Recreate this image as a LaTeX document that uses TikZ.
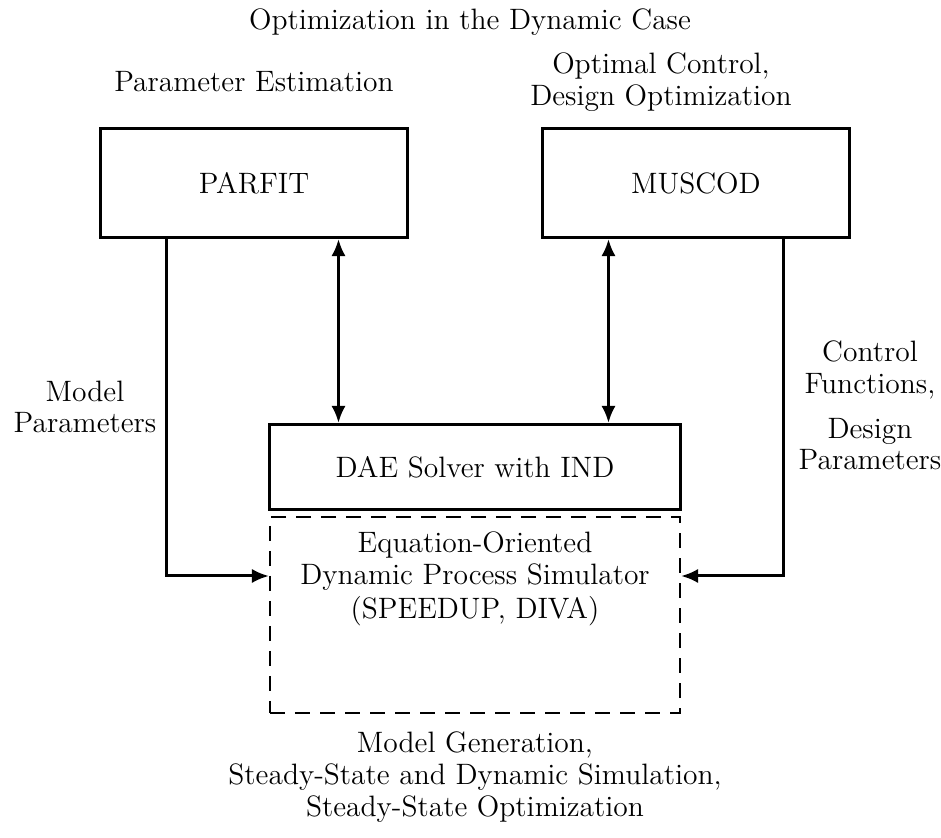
\documentclass[tikz,border=0pt]{standalone}
\usetikzlibrary{arrows.meta, positioning, calc}

\begin{document}
\begin{tikzpicture}[
  x=0.4pt, y=0.4pt,
  every node/.style={font=\fontsize{11.8}{11.2}\selectfont},
  box/.style={draw, very thick, minimum width=122.8pt, minimum height=43.6pt, inner sep=0pt},
  solver/.style={draw, very thick, minimum width=164pt, minimum height=34pt, inner sep=0pt},
  simbox/.style={draw, thick, dashed, dash pattern=on 6pt off 4pt, minimum width=164pt,
    minimum height=78.4pt, inner sep=0pt},
  arr/.style={-{Latex[length=2.4mm, width=2mm]}, very thick},
  darr/.style={{Latex[length=2.4mm, width=2mm]}-{Latex[length=2.4mm, width=2mm]}, very thick},
  lbl/.style={align=center, inner sep=0pt}
]
  \useasboundingbox (0,0) rectangle (941,-838);

  %% Title
  \node[lbl] (title) at (470,-22) {Optimization in the Dynamic Case};

  %% Optimizers
  \node[lbl] (pelbl) at (254,-82) {Parameter Estimation};
  \node[lbl] (oclbl) at (661,-82) {Optimal Control,\\[1.5pt]Design Optimization};
  \node[box] (parfit) at (254,-183) {PARFIT};
  \node[box] (muscod) at (696,-183) {MUSCOD};

  %% Solver and simulator
  \node[solver] (dae) at (475,-467) {DAE Solver with IND};
  \node[simbox] (sim) at (475,-615) {};
  \node[lbl] (simtxt) at (475,-579)
    {Equation-Oriented\\[1.5pt]Dynamic Process Simulator\\[1.5pt](SPEEDUP, DIVA)};
  \node[lbl] (simlbl) at (475,-777)
    {Model Generation,\\[1.5pt]Steady-State and Dynamic Simulation,\\[1.5pt]Steady-State Optimization};

  %% Solver links
  \coordinate (pa) at ($(dae.north west)+(70,0)$);
  \coordinate (ma) at ($(dae.north west)+(340,0)$);
  \draw[darr] (pa |- parfit.south) -- (pa);
  \draw[darr] (ma |- muscod.south) -- (ma);

  %% Model parameters
  \coordinate (pout) at ($(parfit.south west)+(68,0)$);
  \coordinate (pin) at ($(sim.west)+(0,39)$);
  \draw[arr] (pout) |- (pin);
  \node[lbl] (mplbl) at (85,-407) {Model\\[1.5pt]Parameters};

  %% Control functions
  \coordinate (mout) at ($(muscod.south east)+(-68,0)$);
  \coordinate (min) at ($(sim.east)+(0,39)$);
  \draw[arr] (mout) |- (min);
  \node[lbl] (cflbl) at (870,-370) {Control\\[1.5pt]Functions,};
  \node[lbl] (dplbl) at (870,-444) {Design\\[1.5pt]Parameters};

\end{tikzpicture}
\end{document}
